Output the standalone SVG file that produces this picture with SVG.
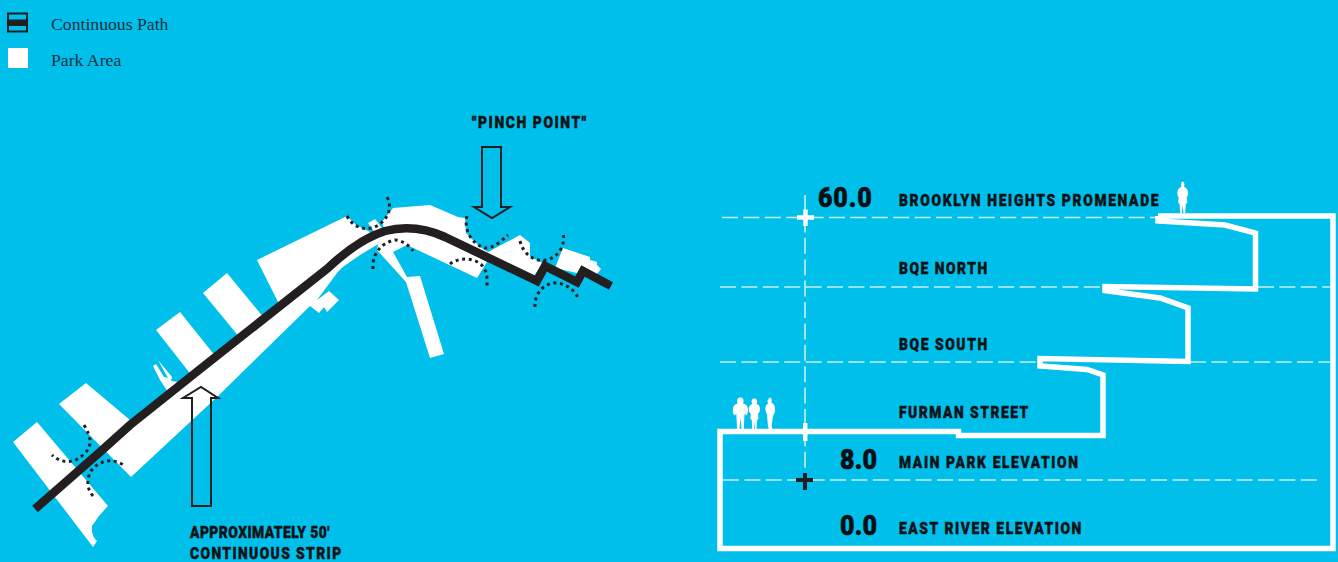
<svg xmlns="http://www.w3.org/2000/svg" width="1338" height="562" viewBox="0 0 1338 562">
<style>
.lbl{font-family:Roboto,"Liberation Sans",Arial,sans-serif;font-weight:900;fill:#0d1216;stroke:#0d1216;stroke-width:.45px;font-size:16.5px}
.num{font-family:Roboto,"Liberation Sans",Arial,sans-serif;font-weight:900;fill:#0a0f14;stroke:#0a0f14;stroke-width:.6px;font-size:28.5px}
.leg{font-family:"Liberation Serif","Times New Roman",serif;font-size:17.7px;fill:#12303f}
.park{fill:#fff}
.dots{fill:none;stroke:#231f20;stroke-width:3;stroke-dasharray:3 3.6}
.arrow{fill:none;stroke:#231f20;stroke-width:2}
.dash{fill:none;stroke:#c9f0fa;stroke-width:1.6;stroke-dasharray:16 5.4}
.sec{fill:none;stroke:#fff;stroke-width:5.5;stroke-linejoin:miter;stroke-miterlimit:2}
</style>
<rect width="1338" height="562" fill="#00bfea"/>
<g id="legend">
<g id="legend-path"><rect x="8" y="13.500" width="19" height="18" fill="#00bfea" stroke="#231f20" stroke-width="2"/><rect x="8" y="19.500" width="19" height="6.500" fill="#231f20"/><text class="leg" x="51" y="30">Continuous Path</text></g>
<g id="legend-park"><rect x="8" y="48" width="20" height="20" fill="#fff"/><text class="leg" x="51" y="66">Park Area</text></g>
</g>
<g id="park-map">
<path class="park" d="M37,422 L13,442 L93,547 L97,541 Q91,536 92,526 Q98,516 108,506Z"/>
<polygon class="park" points="86,383 59,404 131,477 217,397 310,306 319,313 324,307 327,312 339,300 329,291 317,300 340,269 360,255 380,243 395,236 380,228 300,290 130,420"/>
<polygon class="park" points="180,312 156,330 196,381 220,362"/>
<polygon class="park" points="227,273 203,293 245,344 269,324"/>
<polygon class="park" points="257,260 347,216 356,225 372,233 340,270 283,312"/>
<polygon class="park" points="158,360 172,377 171,381 178,382 168,392 160,380 153,366 156,364 164,377 168,378"/>
<polygon class="park" points="368,223 375,219 382,228 375,233"/>
<polygon class="park" points="382,222 393,208 430,205 458,217 465,218 466,233 480,247 488,252 520,235 530,243 530,257 543,263 533,277 480,255 430,232 405,227 385,232"/>
<polygon class="park" points="377,250 406,282 430,358 444,354 420,276 407,277 393,252 407,245 477,278 487,262 440,235 405,228 380,235"/>
<polygon class="park" points="563,248 590,257 590,260 597,262 597,265 601,269 597,274 590,276 555,268"/>
<path fill="none" stroke="#231f20" stroke-width="8.500" stroke-linejoin="miter" d="M35,509 L100,452 L130,425 L199,370 L328,268 C345,252 363,238 385,231 C405,226 425,228 445,237 L537,281 L545,266 L577,282 L583,271 L611,286"/>
<path class="dots" d="M84,425 C92,438 92,447 84,454 C74,464 62,464 52,455"/>
<path class="dots" d="M93,496 C86,488 87,478 91,471 C100,459 114,458 125,466"/>
<path class="dots" d="M347,216 C352,226 362,230 372,228 C385,224 394,210 387,197"/>
<path class="dots" d="M373,269 C372,255 380,243 395,240 C402,240 410,246 413,251"/>
<path class="dots" d="M467,216 C463,232 474,245 485,248 C495,248 502,240 508,235"/>
<path class="dots" d="M450,264 C460,256 478,258 484,268 C488,275 487,282 487,288"/>
<path class="dots" d="M520,241 C524,256 536,262 546,260 C558,258 566,245 563,233"/>
<path class="dots" d="M535,307 C534,293 545,283 555,283 C565,283 575,290 578,298"/>
</g>
<g id="connectors">
<polygon id="arrow-pinch" class="arrow" points="482,147 501,147 501,207 510,207 492,218 474,207 482,207"/>
<polygon id="arrow-strip" class="arrow" points="192,506 211,506 211,398 218,398 201,387 183,398 192,398"/>
</g>
<g id="labels-map">
<text class="lbl" transform="translate(472,127.500) scale(.84,1)" textLength="136" lengthAdjust="spacing">"PINCH POINT"</text>
<text class="lbl" transform="translate(190,537.500) scale(.84,1)" textLength="166" lengthAdjust="spacing">APPROXIMATELY 50'</text>
<text class="lbl" transform="translate(190,559) scale(.84,1)" textLength="180" lengthAdjust="spacing">CONTINUOUS STRIP</text>
</g>
<g id="section">
<path class="dash" d="M722,217.500H1156M720,287H1104M1258,287H1330M720,362H1040M1190,362H1330M723,480H1322"/>
<path class="dash" d="M805,195V480"/>
<path class="sec" d="M1158,216H1333V548.500H720V431.500H958.500V435.500H1103V375L1087,369.500L1040,366V358.500L1188,361.500V308L1160,298L1105,290.500V286.500L1255.500,289V233L1225,225L1158,221V216"/>
<rect x="803" y="423" width="4.500" height="18" fill="#fff"/>
<path d="M805.500,209.500V226M797,217.500H814" fill="none" stroke="#fff" stroke-width="4.500"/>
<path d="M805,473V490M796,480H813" fill="none" stroke="#231f20" stroke-width="4"/>
<g id="people" fill="#fff">
<path id="person-a" d="M1182,181.500c1.800,0 2.600,1.600 2.400,3.500l-.5,1.800c2.800,.8 4.200,3.500 4.200,6.500c0,2-.8,3.500-1.500,4.500l.8,4.500l-1.600,2l-.6,8.700h-1.700l-.8-7.500l-.8,7.500h-1.700l-.6-8.700l-1.600-2l.8-4.500c-.7-1-1.500-2.500-1.500-4.500c0-3 1.400-5.700 4.200-6.500l-.5-1.800c-.2-1.900 .7-3.500 2.500-3.500z"/>
<path id="person-b" d="M740.500,397.500c2.600,0 3.500,2.500 3,4.500l-.5,1.500c3,.7 5,2.500 5,7c0,2.500-.8,4.500-2,5l-1.500-2l-.8,17h-2l-1.200-12l-1.200,12h-2.200l-.8-17l-1.500,2c-1.200-.5-2-2.500-2-5c0-4.500 2-6.300 5-7l-.5-1.500c-.5-2 .4-4.500 3-4.500z"/>
<path id="person-c" d="M754.500,398.500c2.200,0 3,2.200 2.600,4l-.6,1.600c2.500,.6 3.800,2.500 3.500,6c-.1,1.500-1,3-2,3.500l.5,5l-1.500,2l-.5,10h-1.500l-.6-9l-.6,9h-1.500l-.5-10l-1.500-2l.5-5c-1-.5-1.900-2-2-3.500c-.3-3.500 1-5.400 3.500-6l-.6-1.600c-.4-1.800 .4-4 2.300-4z"/>
<path id="person-d" d="M769.500,397.500c1.900,0 2.600,1.800 2.200,3.700l-.4,1.500c2.500,.8 3.700,3 3.700,7c0,2.500-.8,4.500-1.500,5l-1,4l-.8,7l.8,4.800h-3.500l-1.200-6l-.8-9.800l-1.500-4c-.6-3 .2-6 2.500-7l-.3-1.500c-.4-1.900 .2-3.700 1.800-3.700z"/>
</g>
<text class="num" transform="translate(818,207) scale(.88,1)" textLength="61" lengthAdjust="spacing">60.0</text>
<text class="num" transform="translate(840,469) scale(.88,1)" textLength="42" lengthAdjust="spacing">8.0</text>
<text class="num" transform="translate(840,535) scale(.88,1)" textLength="42" lengthAdjust="spacing">0.0</text>
<text class="lbl" transform="translate(899,206) scale(.84,1)" textLength="309" lengthAdjust="spacing">BROOKLYN HEIGHTS PROMENADE</text>
<text class="lbl" transform="translate(899,274) scale(.84,1)" textLength="105" lengthAdjust="spacing">BQE NORTH</text>
<text class="lbl" transform="translate(899,350) scale(.84,1)" textLength="105" lengthAdjust="spacing">BQE SOUTH</text>
<text class="lbl" transform="translate(899,418) scale(.84,1)" textLength="154" lengthAdjust="spacing">FURMAN STREET</text>
<text class="lbl" transform="translate(899,468) scale(.84,1)" textLength="213" lengthAdjust="spacing">MAIN PARK ELEVATION</text>
<text class="lbl" transform="translate(899,534) scale(.84,1)" textLength="217" lengthAdjust="spacing">EAST RIVER ELEVATION</text>
</g>
</svg>
